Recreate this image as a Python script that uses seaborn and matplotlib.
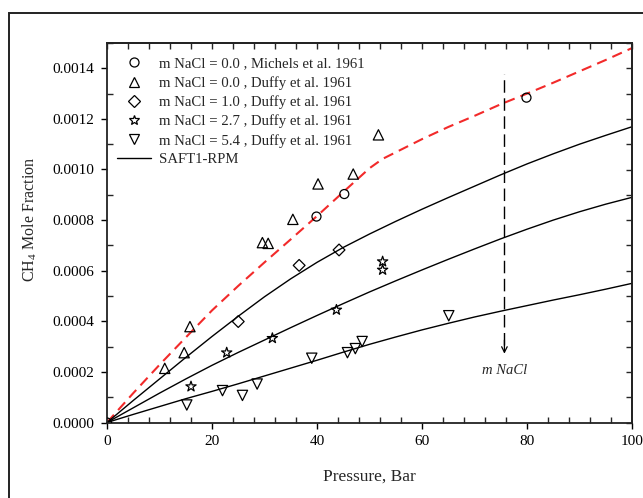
import matplotlib
matplotlib.use("Agg")
import matplotlib.pyplot as plt
from matplotlib.lines import Line2D
from matplotlib.patches import Rectangle
import numpy as np
import seaborn as sns

# ---- experimental CH4 solubility data (pressure in bar, CH4 mole fraction) ----
p_michels_0 = [0.0, 39.9, 45.2, 79.9]
x_michels_0 = [0.0, 0.000814, 0.000903, 0.001284]

p_duffy_0 = [11.0, 14.7, 15.8, 29.6, 30.7, 35.4, 40.2, 46.9, 51.7]
x_duffy_0 = [0.000214, 0.000276, 0.000379, 0.000711, 0.000708, 0.000803,
             0.000943, 0.000982, 0.001137]

p_duffy_1 = [25.0, 36.6, 44.2]
x_duffy_1 = [0.000399, 0.000621, 0.000682]

p_duffy_27 = [16.0, 22.8, 31.5, 43.7, 52.5, 52.5]
x_duffy_27 = [0.000142, 0.000276, 0.000333, 0.000445, 0.000603, 0.000636]

p_duffy_54 = [15.2, 22.0, 25.8, 28.6, 39.0, 45.8, 47.3, 48.6, 65.1]
x_duffy_54 = [0.0000692, 0.000126, 0.000107, 0.000152, 0.000254, 0.000276,
              0.000292, 0.000320, 0.000422]

# ---- SAFT1-RPM model curves ----
p_model = [0, 5, 10, 15, 20, 25, 30, 35, 40, 45, 50, 52.5, 55, 60, 65, 70,
           75, 80, 85, 90, 95, 100]
x_model_0 = [0, 0.000116, 0.000228, 0.000336, 0.000443, 0.000540, 0.000633,
             0.000724, 0.000816, 0.000911, 0.001005, 0.001042, 0.001068,
             0.001120, 0.001168, 0.001212, 0.001258, 0.001300, 0.001343,
             0.001388, 0.001433, 0.001480]

p_saft = [0, 5, 10, 15, 20, 25, 30, 35, 40, 45, 50, 55, 60, 65, 70, 75, 80,
          85, 90, 95, 100]
x_saft_1 = [0, 0.000087, 0.000172, 0.000257, 0.000340, 0.000420, 0.000497,
            0.000568, 0.000633, 0.000692, 0.000745, 0.000795, 0.000843,
            0.000889, 0.000934, 0.000979, 0.001022, 0.001062, 0.001100,
            0.001135, 0.001169]
x_saft_27 = [0, 0.000058, 0.000116, 0.000172, 0.000226, 0.000277, 0.000326,
             0.000375, 0.000423, 0.000470, 0.000516, 0.000560, 0.000603,
             0.000645, 0.000686, 0.000726, 0.000764, 0.000800, 0.000833,
             0.000863, 0.000890]
x_saft_54 = [0, 0.000032, 0.000063, 0.000094, 0.000123, 0.000153, 0.000184,
             0.000215, 0.000246, 0.000278, 0.000309, 0.000338, 0.000366,
             0.000392, 0.000417, 0.000440, 0.000462, 0.000484, 0.000505,
             0.000527, 0.000550]

legend_labels = [
    "m NaCl = 0.0 , Michels et al. 1961",
    "m NaCl = 0.0 , Duffy et al. 1961",
    "m NaCl = 1.0 , Duffy et al. 1961",
    "m NaCl = 2.7 , Duffy et al. 1961",
    "m NaCl = 5.4 , Duffy et al. 1961",
    "SAFT1-RPM",
]

# salinity arrow annotation
p_arrow = 75.7
x_arrow_top = 0.001378
x_arrow_tail = 0.000306
x_arrow_tip = 0.000272
x_arrow_text = 0.000205

sns.set_style("ticks")
plt.rcParams["font.family"] = ["Liberation Serif", "DejaVu Serif"]
plt.rcParams["mathtext.fontset"] = "custom"
plt.rcParams["mathtext.rm"] = "Liberation Serif"
plt.rcParams["mathtext.it"] = "Liberation Serif:italic"
plt.rcParams["lines.scale_dashes"] = False

fig = plt.figure(figsize=(6.43, 4.98), dpi=100)
ax = fig.add_axes([107 / 643, 1 - 422.5 / 498, (632 - 107) / 643, (422.5 - 43) / 498])

# outer frame of the figure panel
fig.patches.append(Rectangle((9 / 643, -0.2), 1.2, 0.2 + (498 - 13) / 498,
                             transform=fig.transFigure, fill=False,
                             lw=1.4, ec="#222222", zorder=0))

# model curves
sns.lineplot(x=p_model, y=x_model_0, ax=ax, color="#f22a2a", lw=1.5,
             linestyle=(0, (7.5, 4.5)), zorder=2)
for ys in (x_saft_1, x_saft_27, x_saft_54):
    sns.lineplot(x=p_saft, y=ys, ax=ax, color="black", lw=1.0, zorder=2)

# experimental points
marker_specs = [
    (p_michels_0, x_michels_0, "o", 42),
    (p_duffy_0, x_duffy_0, "^", 55),
    (p_duffy_1, x_duffy_1, "D", 36),
    (p_duffy_27, x_duffy_27, "*", 60),
    (p_duffy_54, x_duffy_54, "v", 55),
]
for px, py, mk, s in marker_specs:
    sns.scatterplot(x=px, y=py, ax=ax, marker=mk, s=s, facecolor="none",
                    edgecolor="black", linewidth=0.9, zorder=3)

# salinity direction arrow
ax.plot([p_arrow, p_arrow], [x_arrow_tail, x_arrow_top], color="black",
        lw=1.0, linestyle=(0, (9, 4)), zorder=2)
ax.annotate("", xy=(p_arrow, x_arrow_tip), xytext=(p_arrow, x_arrow_tail + 0.00002),
            arrowprops=dict(arrowstyle="->", lw=0.9, color="black",
                            mutation_scale=10, shrinkA=0, shrinkB=0))
ax.text(p_arrow, x_arrow_text, "m NaCl", style="italic", fontsize=10.5,
        ha="center", va="center")

ax.set_xlim(0, 100)
ax.set_ylim(0, 0.0015)
ax.set_xticks(np.arange(0, 101, 20))
ax.set_xticks(np.arange(0, 101, 4), minor=True)
ax.set_yticks(np.arange(0, 0.00141, 0.0002))
ax.set_yticks(np.arange(0, 0.00151, 0.0001), minor=True)
ax.yaxis.set_major_formatter(matplotlib.ticker.FormatStrFormatter("%.4f"))
ax.tick_params(which="major", direction="out", length=4, width=1.0,
               labelsize=11, colors="black", pad=5)
ax.tick_params(which="minor", direction="in", length=4, width=1.0)

for side in ("top", "right", "bottom", "left"):
    ax.spines[side].set_visible(True)
    ax.spines[side].set_linewidth(1.3)
    ax.spines[side].set_color("#222222")

# inward ticks on the top and right frame
top = ax.secondary_xaxis("top")
top.set_xticks(np.arange(0, 101, 4))
top.tick_params(direction="in", length=4, width=1.0, labeltop=False)
top.spines["top"].set_linewidth(1.3)
right = ax.secondary_yaxis("right")
right.set_yticks(np.arange(0, 0.00151, 0.0001))
right.tick_params(direction="in", length=4, width=1.0, labelright=False)
right.spines["right"].set_linewidth(1.3)

ax.set_xlabel("Pressure, Bar", fontsize=12.5, labelpad=15)
ax.set_ylabel("CH$_4$ Mole Fraction", fontsize=11.5)
ax.yaxis.set_label_coords(-0.129, 0.535)

handles = [
    Line2D([], [], ls="none", marker="o", ms=6.5, mfc="none", mec="black", mew=0.9),
    Line2D([], [], ls="none", marker="^", ms=7.5, mfc="none", mec="black", mew=0.9),
    Line2D([], [], ls="none", marker="D", ms=6.0, mfc="none", mec="black", mew=0.9),
    Line2D([], [], ls="none", marker="*", ms=7.5, mfc="none", mec="black", mew=0.9),
    Line2D([], [], ls="none", marker="v", ms=7.5, mfc="none", mec="black", mew=0.9),
    Line2D([], [], color="black", lw=1.0),
]
ax.legend(handles, legend_labels, loc="upper left", frameon=False,
          bbox_to_anchor=(0, 1 - 4 / 379.5),
          fontsize=10.6, handlelength=2.3, handletextpad=0.55,
          labelspacing=0.37, borderaxespad=0.3, borderpad=0.4)

fig.savefig("out.png", dpi=100)
